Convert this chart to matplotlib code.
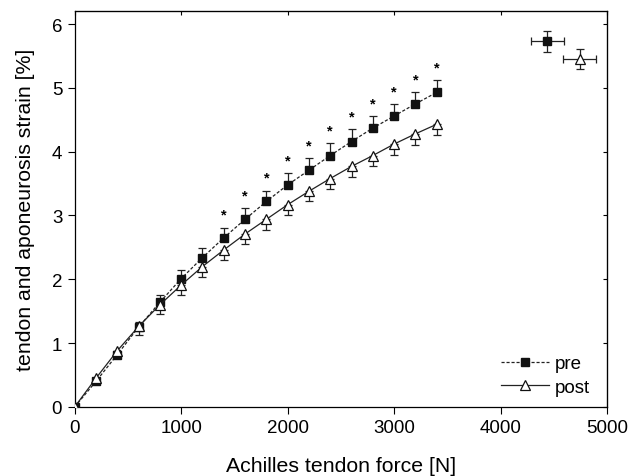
import numpy as np
import matplotlib
matplotlib.use("Agg")
import matplotlib.pyplot as plt

plt.rcParams['font.family'] = ['Liberation Sans', 'DejaVu Sans']

# force steps [N]
force = [0, 200, 400, 600, 800, 1000, 1200, 1400, 1600, 1800,
         2000, 2200, 2400, 2600, 2800, 3000, 3200, 3400]

# strain [%]
pre = [0, 0.40, 0.82, 1.25, 1.64, 2.01, 2.34, 2.65, 2.94, 3.22,
       3.48, 3.71, 3.94, 4.16, 4.37, 4.56, 4.75, 4.93]
pre_err = [0, 0.03, 0.05, 0.08, 0.11, 0.13, 0.15, 0.16, 0.17, 0.17,
           0.18, 0.19, 0.19, 0.19, 0.19, 0.19, 0.19, 0.19]
post = [0, 0.45, 0.88, 1.26, 1.60, 1.91, 2.20, 2.46, 2.71, 2.94,
        3.17, 3.38, 3.58, 3.77, 3.94, 4.12, 4.28, 4.43]
post_err = [0, 0.04, 0.06, 0.13, 0.14, 0.15, 0.16, 0.16, 0.16, 0.16,
            0.16, 0.16, 0.17, 0.17, 0.16, 0.17, 0.17, 0.17]

# significant differences (pre vs post)
sig_force = [1400, 1600, 1800, 2000, 2200, 2400, 2600, 2800, 3000, 3200, 3400]

# maximum values (mean +- sd)
max_pre = (4440, 5.73, 157, 0.16)
max_post = (4745, 5.45, 155, 0.16)

fig = plt.figure(figsize=(6.28, 4.77), dpi=100)
ax = fig.add_axes([0.119, 0.145, 0.8476, 0.829])

ax.errorbar(force, pre, yerr=[np.zeros(len(pre_err)), pre_err], fmt='none',
            ecolor='#222222', elinewidth=0.9, capsize=2.6, capthick=0.9, zorder=2)
ax.errorbar(force, post, yerr=[post_err, np.zeros(len(post_err))], fmt='none',
            ecolor='#222222', elinewidth=0.9, capsize=2.6, capthick=0.9, zorder=2)

ax.plot(force, pre, linestyle=(0, (2.5, 1.5)), color='#222222', lw=0.9,
        marker='s', ms=5.5, mfc='#111111', mec='#111111', label='pre', zorder=3)
ax.plot(force, post, linestyle='-', color='#222222', lw=0.9,
        marker='^', ms=7, mfc='white', mec='#111111', mew=0.9, label='post', zorder=3)

# stars above pre error bars
idx = [force.index(f) for f in sig_force]
star_y = [pre[i] + pre_err[i] + 0.2 for i in idx]
for f, y in zip(sig_force, star_y):
    ax.text(f, y, '*', ha='center', va='center', fontsize=10.5, fontweight='bold')

ax.errorbar(max_pre[0], max_pre[1], xerr=max_pre[2], yerr=max_pre[3], fmt='s',
            ms=5.5, mfc='#111111', mec='#111111', ecolor='#222222',
            elinewidth=0.9, capsize=2.6, capthick=0.9)
ax.errorbar(max_post[0], max_post[1], xerr=max_post[2], yerr=max_post[3], fmt='^',
            ms=7, mfc='white', mec='#111111', mew=0.9, ecolor='#222222',
            elinewidth=0.9, capsize=2.6, capthick=0.9)

ax.set_xlim(0, 5000)
ax.set_ylim(0, 6.2)
ax.set_xticks([0, 1000, 2000, 3000, 4000, 5000])
ax.set_yticks([0, 1, 2, 3, 4, 5, 6])
ax.tick_params(axis='both', direction='out', length=5, width=0.8,
               labelsize=13.5, pad=4)
for sp in ax.spines.values():
    sp.set_linewidth(0.9)

# small inward ticks on top and right
top = ax.secondary_xaxis('top')
top.set_xticks([0, 1000, 2000, 3000, 4000, 5000])
top.tick_params(direction='in', length=3, width=0.8, labeltop=False)
right = ax.secondary_yaxis('right')
right.set_yticks([0, 1, 2, 3, 4, 5, 6])
right.tick_params(direction='in', length=3, width=0.8, labelright=False)

ax.set_xlabel('Achilles tendon force [N]', fontsize=15.3, labelpad=14)
ax.set_ylabel('tendon and aponeurosis strain [%]', fontsize=15.3, labelpad=12)

leg = ax.legend(loc='lower right', frameon=False, fontsize=13.5,
                handlelength=2.6, handletextpad=0.3, labelspacing=0.35,
                bbox_to_anchor=(1.0, -0.015))

fig.savefig('out.png', dpi=100)
